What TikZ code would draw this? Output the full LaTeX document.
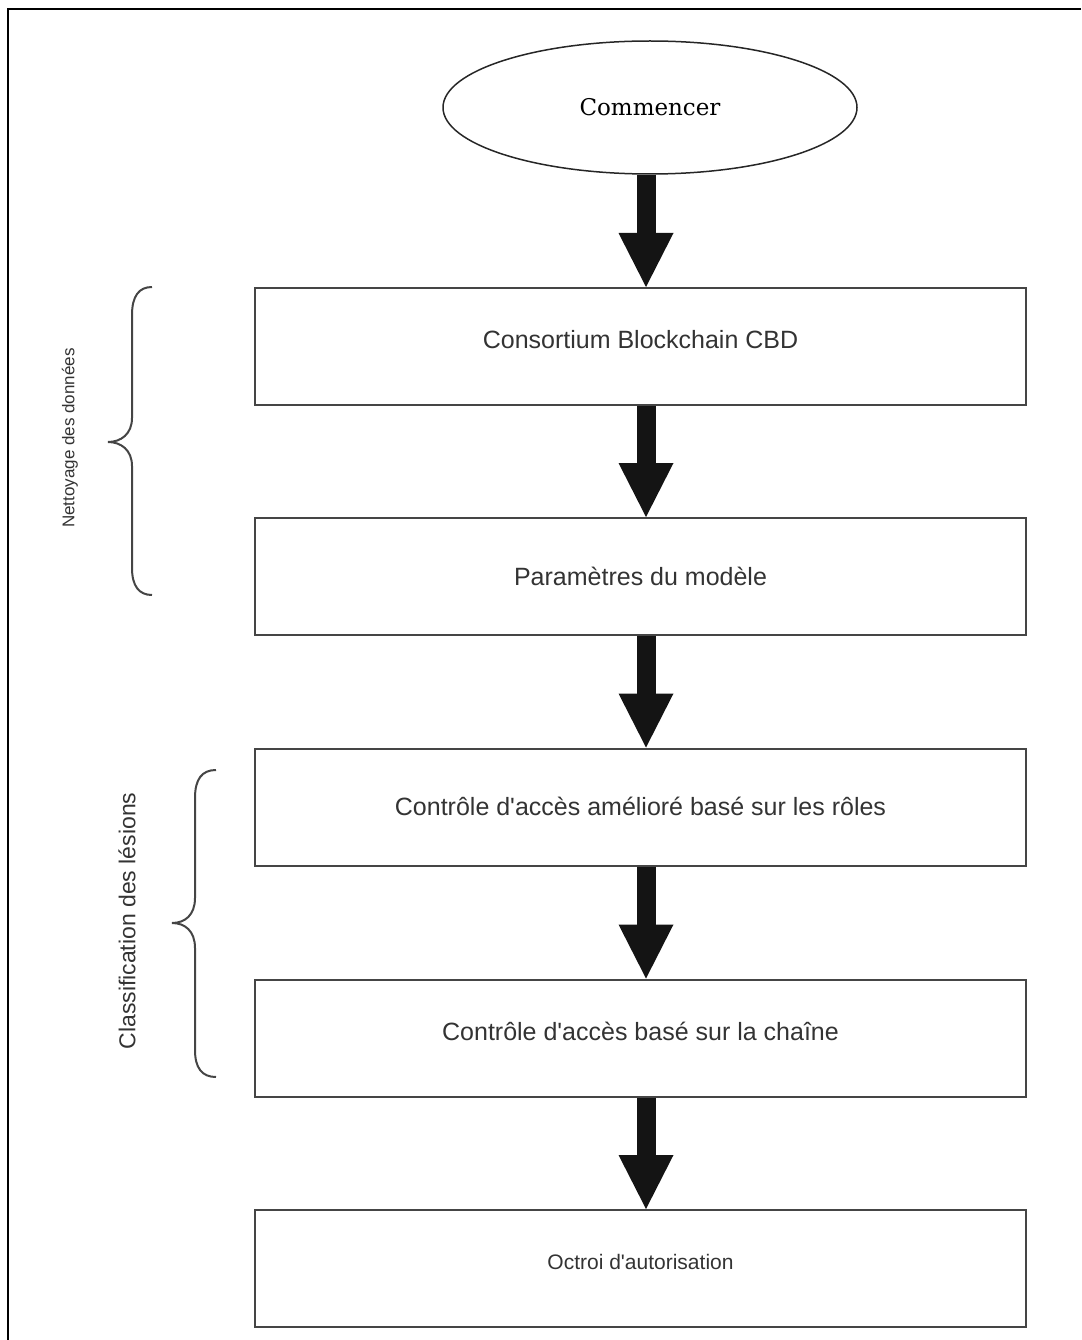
\documentclass[tikz,border=0pt]{standalone}
\usepackage{fontspec}
\setmainfont{Liberation Sans}
\newfontfamily\startfont{DejaVu Serif}
\usetikzlibrary{shapes.geometric,arrows.meta}
\definecolor{ink}{HTML}{333333}
\definecolor{edge}{HTML}{454545}
% raise a line of text inside a box while keeping a fixed box height
\newcommand\liftby[2]{\raisebox{#1}[18pt][0pt]{#2}}
\newcommand\apos{\textquotesingle}
\begin{document}
\begin{tikzpicture}[x=1pt,y=-1pt,
  stepbox/.style={draw=edge, line width=2pt, minimum width=771pt,
    minimum height=117pt, inner sep=0pt, text=ink,
    font=\fontsize{25}{30}\selectfont},
  flow/.style={draw=black!92, line width=19pt,
    -{Triangle[width=55pt,length=54pt,line width=0pt]}},
  bracket/.style={draw=edge, line width=2pt},
  side/.style={rotate=90, text=ink, inner sep=0pt}]
\useasboundingbox (0,0) rectangle (1081,1340);

% page frame
\draw[line width=2.5pt] (1081,9) -- (8,9) -- (8,1340);

% start terminal
\node[ellipse, draw=black!85, line width=1.5pt, minimum width=414pt,
  minimum height=133pt, inner sep=0pt,
  font=\startfont\fontsize{23}{28}\selectfont] (start) at (650,107.5) {Commencer};

% process steps
\node[stepbox] (b1) at (640.5,346.5) {\liftby{7pt}{Consortium Blockchain CBD}};
\node[stepbox] (b2) at (640.5,576.5) {\liftby{0pt}{Paramètres du modèle}};
\node[stepbox] (b3) at (640.5,807) {\liftby{1pt}{Contrôle d\apos accès amélioré basé sur les rôles}};
\node[stepbox] (b4) at (640.5,1038) {\liftby{7pt}{Contrôle d\apos accès basé sur la chaîne}};
\node[stepbox, font=\fontsize{21}{25}\selectfont] (b5) at (640.5,1268.5)
  {\liftby{8pt}{Octroi d\apos autorisation}};

% flow arrows
\coordinate (ax) at (646,0);
\draw[flow] (start.south -| ax) -- (b1.north -| ax);
\draw[flow] (b1.south -| ax) -- (b2.north -| ax);
\draw[flow] (b2.south -| ax) -- (b3.north -| ax);
\draw[flow] (b3.south -| ax) -- (b4.north -| ax);
\draw[flow] (b4.south -| ax) -- (b5.north -| ax);

% group braces
\draw[bracket] (152,287) .. controls (139,287) and (132,296) .. (132,315)
  -- (132,418) .. controls (132,434) and (121,442) .. (108,442)
  .. controls (121,442) and (132,450) .. (132,466)
  -- (132,568) .. controls (132,586) and (139,595) .. (152,595);
\draw[bracket] (216,770) .. controls (202,770) and (195,779) .. (195,798)
  -- (195,898) .. controls (195,915) and (185,923) .. (172,923)
  .. controls (185,923) and (195,931) .. (195,948)
  -- (195,1050) .. controls (195,1068) and (202,1077) .. (216,1077);

% group labels
\node[side, font=\fontsize{17}{20}\selectfont] (g1) at (70,438) {Nettoyage des données};
\node[side, font=\fontsize{23}{27}\selectfont] (g2) at (127,921) {Classification des lésions};
\end{tikzpicture}
\end{document}
